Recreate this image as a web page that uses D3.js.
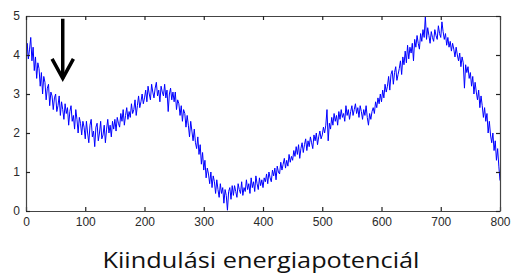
<!DOCTYPE html>
<html><head><meta charset="utf-8">
<script src="https://cdn.jsdelivr.net/npm/d3@7"></script>
<style>html,body{margin:0;padding:0;background:#fff;overflow:hidden}</style>
</head><body>
<svg id="c" width="511" height="276"></svg>
<script>
// Sample spacing along x (sample index -> x units)
const sampleStep = 2;
// Energy values, one per sample (x = 0, 2, 4, ... 800)
const energy = [
3.55,4.3,3.9,4.15,4.45,3.85,4.2,3.6,3.95,3.4,3.8,3.65,3.2,3.55,3.0,3.45,3.3,2.85,3.15,3.25,2.7,3.05,2.95,2.6,2.9,
3.0,2.55,2.7,2.95,2.45,2.8,2.6,2.35,2.75,2.5,2.65,2.2,2.55,2.7,2.3,2.45,2.1,2.6,2.35,2.0,2.4,2.25,1.95,2.3,2.15,
1.85,2.3,2.0,1.75,2.2,2.35,1.9,2.05,1.65,2.15,2.25,1.8,2.0,2.3,1.85,1.95,2.2,1.75,2.1,2.35,2.0,2.2,1.9,2.3,2.1,
2.35,2.05,2.4,2.25,2.15,2.5,2.3,2.6,2.2,2.45,2.65,2.35,2.55,2.4,2.75,2.5,2.6,2.85,2.45,2.7,2.95,2.65,2.8,3.0,2.75,
2.9,3.1,2.8,3.2,3.0,2.85,3.25,3.05,2.9,3.15,3.3,2.95,3.1,2.8,3.2,3.05,2.95,3.25,2.9,3.1,2.55,3.0,3.15,2.85,3.05,
2.8,3.05,2.6,2.85,2.75,2.45,2.7,2.3,2.6,2.5,2.15,2.45,2.2,1.9,2.3,2.05,1.8,2.1,1.75,1.6,1.9,1.45,1.7,1.2,1.5,
1.05,1.3,0.85,1.1,0.95,0.7,1.0,0.6,0.9,0.75,0.45,0.8,0.55,0.35,0.7,0.45,0.6,0.2,0.55,0.4,0.02,0.5,0.6,0.3,0.65,
0.4,0.65,0.5,0.35,0.7,0.55,0.45,0.75,0.4,0.6,0.5,0.8,0.55,0.7,0.45,0.85,0.6,0.75,0.5,0.9,0.7,0.55,0.85,0.65,0.8,
0.6,0.85,0.75,0.95,0.7,1.0,0.85,0.75,1.05,0.9,1.1,0.8,1.15,1.0,0.95,1.25,1.05,1.2,1.35,1.1,1.3,1.15,1.45,1.25,1.4,
1.3,1.55,1.4,1.65,1.45,1.7,1.35,1.6,1.75,1.5,1.7,1.85,1.55,1.8,1.65,1.9,1.75,1.6,1.95,1.8,2.0,1.7,1.9,2.05,1.85,
1.95,2.15,2.0,2.2,2.6,1.8,2.25,2.1,2.4,2.2,2.5,2.3,2.45,2.2,2.55,2.35,2.6,2.4,2.5,2.3,2.7,2.45,2.6,2.35,2.55,
2.7,2.45,2.6,2.75,2.5,2.65,2.4,2.7,2.55,2.35,2.6,2.45,2.7,2.4,2.2,2.5,2.35,2.55,2.65,2.5,2.8,2.65,2.9,2.75,3.0,
2.8,3.1,2.9,3.25,3.05,3.2,3.45,3.1,3.5,3.6,3.25,3.55,3.7,3.35,3.5,3.65,3.85,3.5,3.95,3.75,4.1,3.8,4.25,3.9,4.2,
4.05,4.3,3.85,4.4,4.2,4.5,4.3,4.15,4.55,4.35,4.65,4.45,5.0,4.4,4.7,4.5,4.3,4.6,4.45,4.35,4.65,4.5,4.4,4.75,4.55,
4.45,4.85,4.6,4.4,4.55,4.25,4.45,4.2,4.35,4.1,4.3,4.15,3.95,4.2,4.0,3.85,4.05,3.7,3.95,3.8,3.15,3.75,3.55,3.7,3.4,
3.55,3.2,3.45,3.0,3.3,3.05,2.85,3.1,2.65,2.95,2.7,2.4,2.65,2.3,2.5,2.0,2.3,1.95,1.75,2.0,1.55,1.8,1.3,1.6,1.15,0.78
];
const xTicks = [0,100,200,300,400,500,600,700,800];
const yTicks = [0,1,2,3,4,5];
const caption = "Kiindulási energiapotenciál";
// Arrow annotation in data units
const arrowX = 62, arrowTop = 4.93, arrowTip = 3.4, arrowWingY = 3.9, arrowWingDX = 18;

const svg = d3.select("#c");
const L = 26, R = 500, T = 16, B = 211;
const x = d3.scaleLinear().domain([0,800]).range([L,R]);
const y = d3.scaleLinear().domain([0,5]).range([B,T]);
const axisColor = "#444", labelColor = "#2a2a2a";

svg.append("clipPath").attr("id","pc").append("rect")
  .attr("x",L).attr("y",T-1).attr("width",R-L+1).attr("height",B-T+2);

// data line
svg.append("path")
  .datum(energy)
  .attr("clip-path","url(#pc)")
  .attr("fill","none").attr("stroke","#0000ff").attr("stroke-width",1)
  .attr("d", d3.line().x((d,i)=>x(i*sampleStep)).y(d=>y(d)));

function styleAxis(g){
  g.select(".domain").attr("stroke",axisColor).attr("stroke-width",1.2);
  g.selectAll(".tick line").attr("stroke","#222").attr("stroke-width",1.2);
  g.selectAll("text").attr("fill",labelColor)
    .attr("font-family","'Liberation Sans', Arial, sans-serif").attr("font-size",12);
}
const fmt = d3.format("d");
svg.append("g").attr("transform",`translate(0,${B})`)
  .call(d3.axisBottom(x).tickValues(xTicks).tickFormat(fmt).tickSize(-4).tickPadding(6).tickSizeOuter(0))
  .call(styleAxis);
svg.append("g").attr("transform",`translate(${L},0)`)
  .call(d3.axisLeft(y).tickValues(yTicks).tickFormat(fmt).tickSize(-4).tickPadding(6).tickSizeOuter(0))
  .call(styleAxis);
svg.append("g").attr("transform",`translate(0,${T})`)
  .call(d3.axisTop(x).tickValues(xTicks).tickSize(-4).tickFormat("").tickSizeOuter(0))
  .call(styleAxis);
svg.append("g").attr("transform",`translate(${R},0)`)
  .call(d3.axisRight(y).tickValues(yTicks).tickSize(-4).tickFormat("").tickSizeOuter(0))
  .call(styleAxis);

// arrow
const ag = svg.append("g").attr("stroke","#000").attr("stroke-width",3.5).attr("fill","none");
ag.append("line").attr("x1",x(arrowX)).attr("x2",x(arrowX)).attr("y1",y(arrowTop)).attr("y2",y(arrowTip));
ag.append("polyline").attr("stroke-linejoin","miter")
  .attr("points",[[x(arrowX-arrowWingDX),y(arrowWingY)],[x(arrowX),y(arrowTip)],[x(arrowX+arrowWingDX),y(arrowWingY)]].map(p=>p.join(",")).join(" "));

// caption
svg.append("text").attr("x",261).attr("y",268).attr("text-anchor","middle")
  .attr("font-family","'Open Sans', sans-serif").attr("font-size",22).attr("fill","#111")
  .attr("textLength",317).attr("lengthAdjust","spacingAndGlyphs")
  .text(caption);
</script>
</body></html>
